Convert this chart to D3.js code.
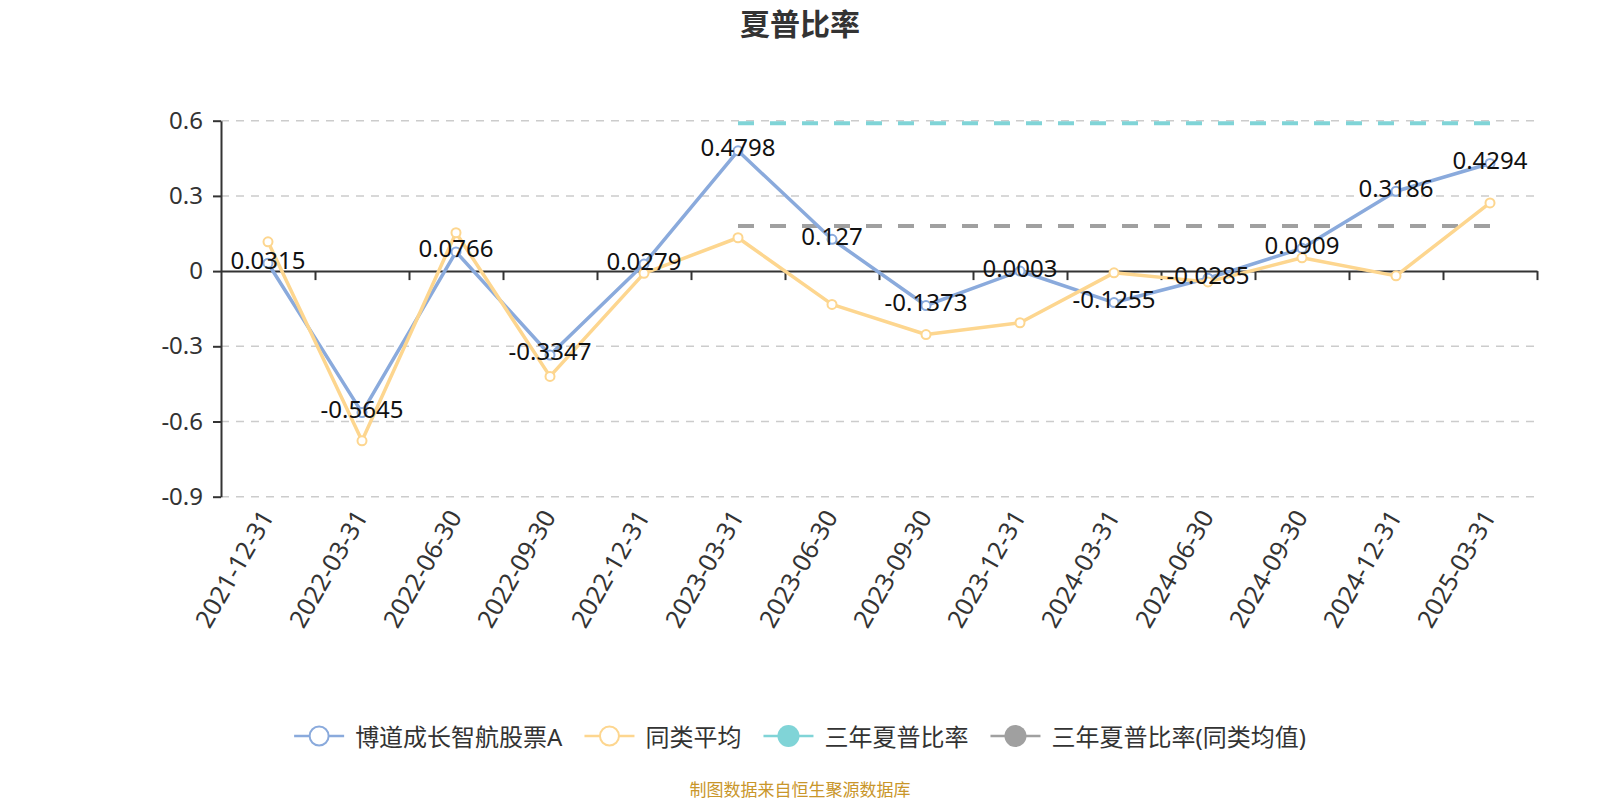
<!DOCTYPE html>
<html>
<head>
<meta charset="utf-8">
<script src="https://cdn.jsdelivr.net/npm/d3@7"></script>
<style>
  body { margin: 0; background: #fff; }
  text { font-family: "Noto Sans", "Noto Sans CJK SC", sans-serif; }
</style>
</head>
<body>
<svg></svg>
<script>
const WIDTH = 1600;
const HEIGHT = 800;
const MARGINS = { left: 221, top: 120.7, right: 63, bottom: 303.3 };

const categories = ['2021-12-31', '2022-03-31', '2022-06-30', '2022-09-30', '2022-12-31', '2023-03-31', '2023-06-30',
  '2023-09-30', '2023-12-31', '2024-03-31', '2024-06-30', '2024-09-30', '2024-12-31', '2025-03-31'];
const fundValues = [0.0315, -0.5645, 0.0766, -0.3347, 0.0279, 0.4798, 0.127, -0.1373, 0.0003, -0.1255, -0.0285, 0.0909, 0.3186, 0.4294];
const peerValues = [0.117, -0.677, 0.153, -0.42, -0.009, 0.133, -0.133, -0.253, -0.206, -0.007, -0.043, 0.053, -0.019, 0.272];
const threeYearValues = [null, null, null, null, null, 0.59, 0.59, 0.59, 0.59, 0.59, 0.59, 0.59, 0.59, 0.59];
const threeYearPeerValues = [null, null, null, null, null, 0.18, 0.18, 0.18, 0.18, 0.18, 0.18, 0.18, 0.18, 0.18];
const yTicks = [-0.9, -0.6, -0.3, 0, 0.3, 0.6];
const seriesNames = ['博道成长智航股票A', '同类平均', '三年夏普比率', '三年夏普比率(同类均值)'];
const COLORS = ['#8aaadc', '#fdd68f', '#80d4d7', '#a0a0a0'];

const graphWidth = WIDTH - MARGINS.left - MARGINS.right;
const graphHeight = HEIGHT - MARGINS.top - MARGINS.bottom;

const svg = d3.select('svg').attr('width', WIDTH).attr('height', HEIGHT);

svg.append('text')
  .attr('x', 800).attr('y', 23)
  .attr('text-anchor', 'middle').attr('dominant-baseline', 'central')
  .attr('font-size', 30).attr('font-weight', 'bold').attr('fill', '#333')
  .text('夏普比率');

const graph = svg.append('g')
  .attr('transform', `translate(${MARGINS.left}, ${MARGINS.top})`);

const x = d3.scaleBand().domain(categories).range([0, graphWidth]);
const cx = (c) => x(c) + x.bandwidth() / 2;
const xEdge = d3.scaleLinear().domain([0, categories.length]).range([0, graphWidth]);
const y = d3.scaleLinear().domain([-0.9, 0.6]).range([graphHeight, 0]);

// grid
graph.append('g')
  .selectAll('line')
  .data(yTicks.filter((d) => d !== 0))
  .enter()
  .append('line')
  .attr('x1', 0).attr('x2', graphWidth)
  .attr('y1', (d) => y(d)).attr('y2', (d) => y(d))
  .attr('stroke', '#cccccc').attr('stroke-width', 1.5)
  .attr('stroke-dasharray', '8,7');

// y axis
const yAxis = d3.axisLeft(y)
  .tickValues(yTicks)
  .tickFormat((d) => (d === 0 ? '0' : d.toFixed(1)))
  .tickSize(8).tickSizeOuter(0).tickPadding(10);
const yAxisGroup = graph.append('g').call(yAxis);
yAxisGroup.select('.domain').attr('stroke', '#333').attr('stroke-width', 2);
yAxisGroup.selectAll('.tick line').attr('stroke', '#333').attr('stroke-width', 2);
yAxisGroup.selectAll('.tick text')
  .attr('font-size', 24).attr('fill', '#333')
  .attr('font-family', '"Noto Sans", sans-serif');

// x axis at zero
const xAxis = d3.axisBottom(xEdge)
  .tickValues(d3.range(1, categories.length + 1))
  .tickFormat('').tickSize(9).tickSizeOuter(0);
const xAxisGroup = graph.append('g')
  .attr('transform', `translate(0, ${y(0)})`)
  .call(xAxis);
xAxisGroup.select('.domain').attr('stroke', '#333').attr('stroke-width', 2);
xAxisGroup.selectAll('.tick line').attr('stroke', '#333').attr('stroke-width', 2);

// x labels at grid bottom
graph.append('g')
  .selectAll('text')
  .data(categories)
  .enter()
  .append('text')
  .attr('transform', (d) => `translate(${cx(d) - 2}, ${graphHeight + 15}) rotate(-60)`)
  .attr('text-anchor', 'end').attr('dominant-baseline', 'central')
  .attr('font-size', 25).attr('fill', '#333')
  .text((d) => d);

const line = d3.line()
  .defined((d) => d.v != null)
  .x((d) => cx(d.c))
  .y((d) => y(d.v));
const rows = (vals) => categories.map((c, i) => ({ c, v: vals[i] }));

const dashed = [
  { vals: threeYearPeerValues, color: COLORS[3] },
  { vals: threeYearValues, color: COLORS[2] },
];
dashed.forEach((s) => {
  graph.append('path')
    .datum(rows(s.vals))
    .attr('d', line)
    .attr('fill', 'none').attr('stroke', s.color)
    .attr('stroke-width', 4).attr('stroke-dasharray', '16,16');
});

const solid = [
  { vals: fundValues, color: COLORS[0] },
  { vals: peerValues, color: COLORS[1] },
];
solid.forEach((s) => {
  graph.append('path')
    .datum(rows(s.vals))
    .attr('d', line)
    .attr('fill', 'none').attr('stroke', s.color)
    .attr('stroke-width', 3.5).attr('stroke-linejoin', 'round');
  graph.append('g')
    .selectAll('circle')
    .data(rows(s.vals))
    .enter()
    .append('circle')
    .attr('cx', (d) => cx(d.c)).attr('cy', (d) => y(d.v))
    .attr('r', 4.5)
    .attr('fill', '#fff').attr('stroke', s.color).attr('stroke-width', 2);
});

// value labels
graph.append('g')
  .selectAll('text')
  .data(rows(fundValues))
  .enter()
  .append('text')
  .attr('x', (d) => cx(d.c)).attr('y', (d) => y(d.v) - 4)
  .attr('text-anchor', 'middle').attr('dominant-baseline', 'central')
  .attr('font-size', 24).attr('fill', '#111')
  .text((d) => String(d.v));

// legend
const legend = svg.append('g').attr('transform', 'translate(0, 736)');
const items = legend.selectAll('g')
  .data(seriesNames)
  .enter()
  .append('g');
items.append('line')
  .attr('x1', 0).attr('x2', 50).attr('y1', 0).attr('y2', 0)
  .attr('stroke', (d, i) => COLORS[i]).attr('stroke-width', 2.5);
items.append('circle')
  .attr('cx', 25).attr('cy', 0)
  .attr('r', (d, i) => (i < 2 ? 9.5 : 11))
  .attr('fill', (d, i) => (i < 2 ? '#fff' : COLORS[i]))
  .attr('stroke', (d, i) => COLORS[i]).attr('stroke-width', (d, i) => (i < 2 ? 2 : 0));
items.append('text')
  .attr('x', 61).attr('y', 0)
  .attr('dominant-baseline', 'central')
  .attr('font-size', 24).attr('fill', '#333')
  .text((d) => d);
let offset = 0;
const widths = [];
items.each(function () {
  const w = 61 + this.querySelector('text').getComputedTextLength();
  widths.push(offset);
  offset += w + 22;
});
const total = offset - 22;
items.attr('transform', (d, i) => `translate(${800 - total / 2 + widths[i]}, 0)`);

svg.append('text')
  .attr('x', 800).attr('y', 789)
  .attr('text-anchor', 'middle').attr('dominant-baseline', 'central')
  .attr('font-size', 17).attr('fill', '#c9962a')
  .text('制图数据来自恒生聚源数据库');
</script>
</body>
</html>
